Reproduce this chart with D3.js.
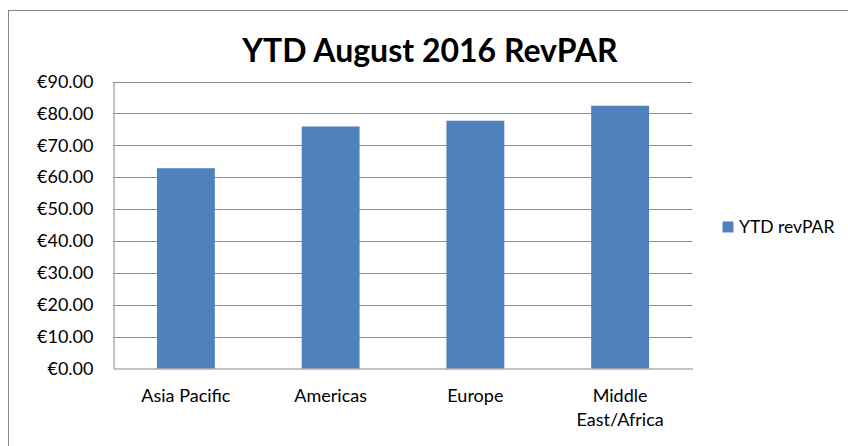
<!DOCTYPE html>
<html>
<head>
<meta charset="utf-8">
<script src="https://cdn.jsdelivr.net/npm/d3@7"></script>
<style>
  body { margin: 0; background: #fff; }
  svg text { font-family: Lato, "Open Sans", sans-serif; fill: #000; }
</style>
</head>
<body>
<svg id="chart" width="848" height="446"></svg>
<script>
var categories = ["Asia Pacific", "Americas", "Europe", "Middle East/Africa"];
var revpar = [62.8, 75.9, 77.7, 82.4];
var yTicks = [0, 10, 20, 30, 40, 50, 60, 70, 80, 90];
var seriesName = "YTD revPAR";
var title = "YTD August 2016 RevPAR";

var svg = d3.select("#chart");

// chart frame (only left and top edges fall inside the picture)
svg.append("rect")
    .attr("x", 8.5).attr("y", 10.5)
    .attr("width", 860).attr("height", 460)
    .attr("fill", "none")
    .attr("stroke", "#868686");

var plotLeft = 113.5, plotRight = 692.5, plotTop = 81.5, plotBottom = 368.5;

var x = d3.scaleBand()
    .domain(categories)
    .range([plotLeft, plotRight])
    .paddingInner(0.6)
    .paddingOuter(0.3);

var y = d3.scaleLinear()
    .domain([0, 90])
    .range([plotBottom, plotTop]);

// gridlines
svg.append("g")
    .selectAll("line")
    .data(yTicks.slice(1))
    .enter().append("line")
    .attr("x1", plotLeft).attr("x2", plotRight)
    .attr("y1", function(d){ return Math.round(y(d)) + 0.5; })
    .attr("y2", function(d){ return Math.round(y(d)) + 0.5; })
    .attr("stroke", "#8c8c8c")
    .attr("stroke-width", 1);

// bars
svg.append("g")
    .selectAll("rect")
    .data(revpar)
    .enter().append("rect")
    .attr("x", function(d, i){ return x(categories[i]); })
    .attr("width", x.bandwidth())
    .attr("y", function(d){ return y(d); })
    .attr("height", function(d){ return plotBottom - y(d); })
    .attr("fill", "#4f81bd");

// y axis
var yAxis = d3.axisLeft(y)
    .tickValues(yTicks)
    .tickSize(0)
    .tickPadding(20)
    .tickFormat(function(d){ return "€" + d3.format(".2f")(d); });

var gy = svg.append("g")
    .attr("transform", "translate(" + plotLeft + ",0)")
    .call(yAxis);
gy.select(".domain").attr("stroke", "#868686");
gy.selectAll("text")
    .attr("font-size", 18)
    .attr("font-family", "Lato, sans-serif")
    .attr("fill", "#000");

// x axis
var xAxis = d3.axisBottom(x).tickSize(0).tickPadding(0);
var gx = svg.append("g")
    .attr("transform", "translate(0," + plotBottom + ")")
    .call(xAxis);
gx.select(".domain").attr("stroke", "#868686");
gx.selectAll("text").remove();
gx.selectAll(".tick").each(function(d){
    var t = d3.select(this).append("text")
        .attr("text-anchor", "middle")
        .attr("font-size", 18)
        .attr("font-family", "Lato, sans-serif")
        .attr("fill", "#000");
    var lines = d === "Middle East/Africa" ? ["Middle", "East/Africa"] : [d];
    lines.forEach(function(l, i){
        t.append("tspan").attr("x", 0).attr("y", 33 + i * 24.3).text(l);
    });
});

// title
svg.append("text")
    .attr("x", 430).attr("y", 62)
    .attr("text-anchor", "middle")
    .attr("font-size", 32)
    .attr("font-weight", "bold")
    .text(title);

// legend
svg.append("rect")
    .attr("x", 722.5).attr("y", 221.5)
    .attr("width", 11).attr("height", 11)
    .attr("fill", "#4f81bd");
svg.append("text")
    .attr("x", 739).attr("y", 233)
    .attr("font-size", 17.5)
    .text(seriesName);
</script>
</body>
</html>
